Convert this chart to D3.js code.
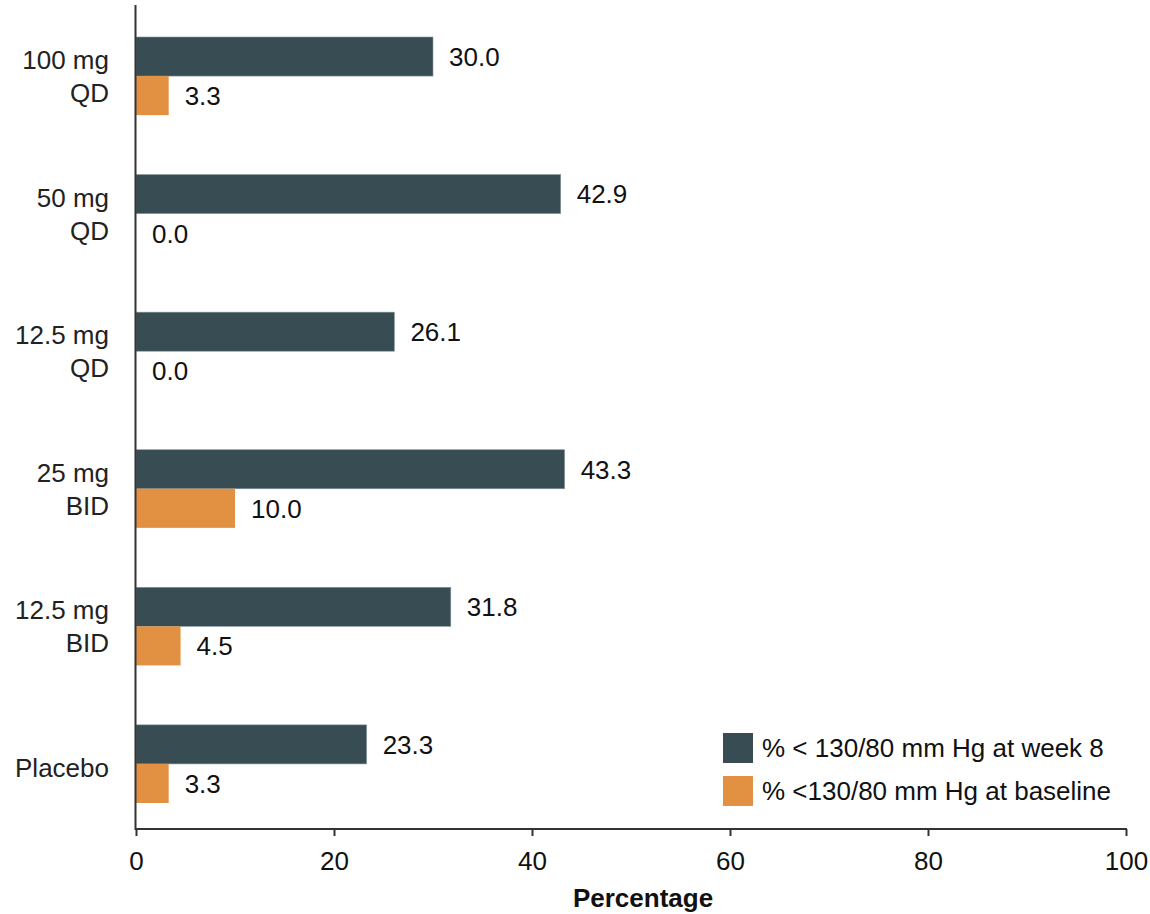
<!DOCTYPE html>
<html><head><meta charset="utf-8">
<script src="https://cdn.jsdelivr.net/npm/d3@7"></script>
<style>body{margin:0;background:#fff}svg{display:block}text{font-family:"Liberation Sans",Arial,sans-serif}</style>
</head><body>
<svg id="c" width="1150" height="914"></svg>
<script>
const categories = [["100 mg","QD"],["50 mg","QD"],["12.5 mg","QD"],["25 mg","BID"],["12.5 mg","BID"],["Placebo"]];
const week8 = [30.0, 42.9, 26.1, 43.3, 31.8, 23.3];
const baseline = [3.3, 0.0, 0.0, 10.0, 4.5, 3.3];
const seriesNames = ["% < 130/80 mm Hg at week 8", "% <130/80 mm Hg at baseline"];
const colors = ["#374c53", "#e29142"];
const xTicks = [0, 20, 40, 60, 80, 100];

const FS = 26;
const svg = d3.select("#c");
const x = d3.scaleLinear().domain([0, 100]).range([136, 1126]);
const keys = categories.map(c => c.join(" "));
const y = d3.scaleBand().domain(keys).range([37, 803]).paddingInner(0.432).paddingOuter(0);
const ys = d3.scaleBand().domain([0, 1]).range([0, y.bandwidth()]);

const data = categories.map((c, i) => ({key: keys[i], lines: c, vals: [week8[i], baseline[i]]}));

const g = svg.append("g");
data.forEach(d => {
  d.vals.forEach((v, j) => {
    g.append("rect")
      .attr("x", x(0)).attr("y", y(d.key) + ys(j))
      .attr("width", x(v) - x(0)).attr("height", ys.bandwidth())
      .attr("fill", colors[j])
      .attr("stroke", j === 0 ? "#8a9a9f" : "none").attr("stroke-width", j === 0 ? 0.6 : 0);
    g.append("text")
      .attr("x", x(v) + 16).attr("y", y(d.key) + ys(j) + ys.bandwidth() / 2)
      .attr("dy", "0.36em").attr("font-size", FS).attr("fill", "#111")
      .text(v.toFixed(1));
  });
  const cy = y(d.key) + y.bandwidth() / 2;
  const t = g.append("text").attr("text-anchor", "end").attr("font-size", FS).attr("fill", "#222");
  const n = d.lines.length;
  d.lines.forEach((l, k) => {
    t.append("tspan").attr("x", 109).attr("y", cy + (k - (n - 1) / 2) * 33 + (n === 1 ? 4 : 0)).attr("dy", "0.36em").text(l);
  });
});

// y axis line
svg.append("line").attr("x1", 135.5).attr("x2", 135.5).attr("y1", 5).attr("y2", 830)
  .attr("stroke", "#333").attr("stroke-width", 2);

const xAxis = d3.axisBottom(x).tickValues(xTicks).tickSize(7).tickPadding(16).tickSizeOuter(0);
const ax = svg.append("g").attr("transform", "translate(0,829)").call(xAxis);
ax.select(".domain").attr("stroke", "#333").attr("stroke-width", 2).attr("d", `M${x(0)-1},0H${x(100)+1}`);
ax.selectAll(".tick line").attr("stroke", "#333").attr("stroke-width", 2);
ax.selectAll(".tick text").attr("font-size", FS).attr("fill", "#111").attr("font-family", "Liberation Sans, Arial, sans-serif");

svg.append("text").attr("x", 643).attr("y", 907).attr("text-anchor", "middle")
  .attr("font-size", FS).attr("font-weight", "bold").attr("fill", "#111").text("Percentage");

const lg = svg.append("g");
seriesNames.forEach((s, i) => {
  lg.append("rect").attr("x", 723).attr("y", 733 + i * 43).attr("width", 30).attr("height", 30).attr("fill", colors[i]);
  lg.append("text").attr("x", 762).attr("y", 748 + i * 43).attr("dy", "0.36em")
    .attr("font-size", FS).attr("fill", "#111").text(s);
});
</script>
</body></html>
